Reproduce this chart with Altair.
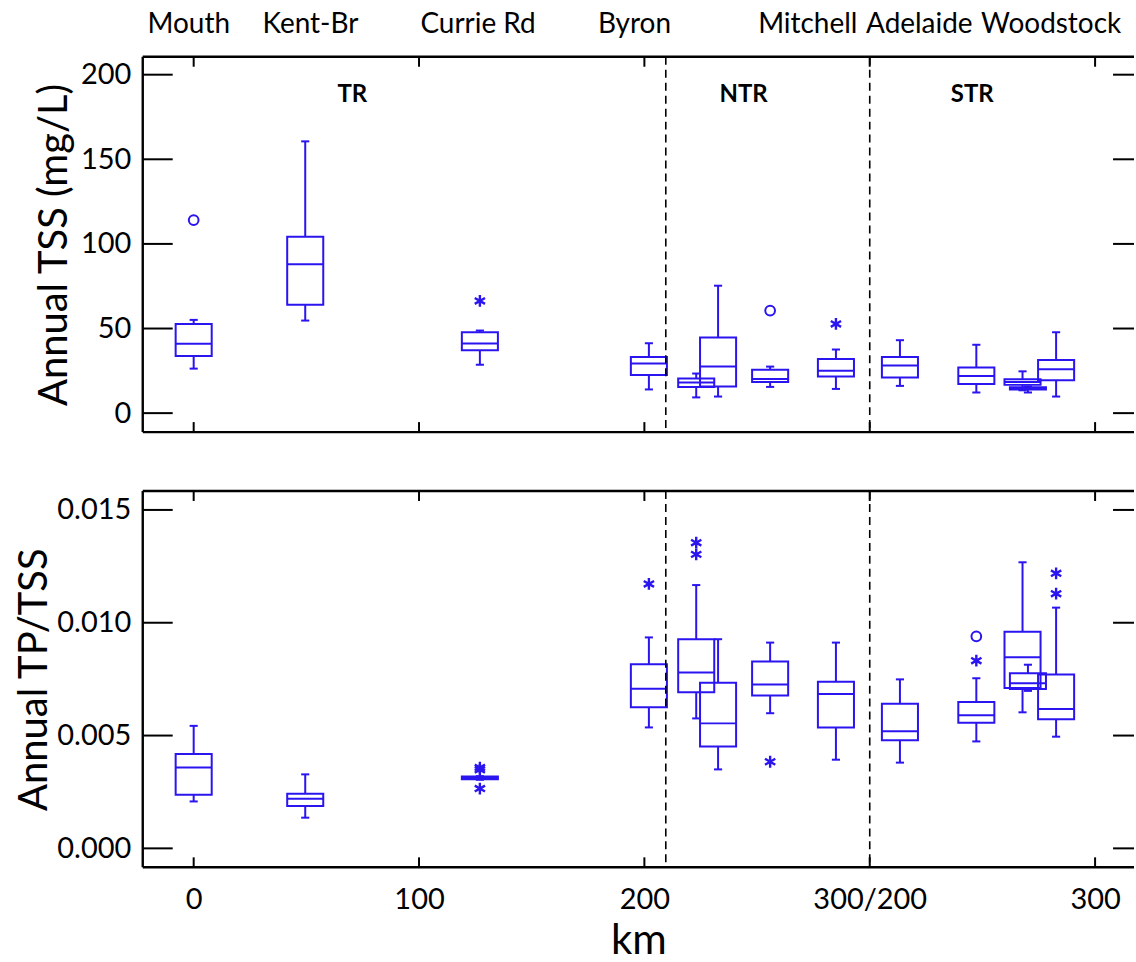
import altair as alt
import pandas as pd

FONT = "Lato"
BLUE = "#2a14f0"
BLACK = "#000000"

# ---------------- shared x (km) ----------------
x_ticks = [0, 100, 200, 300, 400]          # 300 is drawn as "300/200", 400 as "300"
boundaries = [209.5, 300]                  # TR | NTR | STR
box_pos = [0, 49.5, 127, 202, 223, 232.7, 255.8, 285, 313.4, 347.3, 367.8, 370.2, 382.7]

station_names = ["Mouth", "Kent-Br", "Currie Rd", "Byron", "Mitchell", "Adelaide", "Woodstock"]
station_pos = [-2.2, 51.8, 126.2, 195.6, 272.5, 322.0, 380.5]

region_names = ["TR", "NTR", "STR"]
region_pos = [70.4, 244.0, 345.5]

# ---------------- Annual TSS (mg/L) ----------------
tss_lo = [26.3, 54.7, 28.6, 14.0, 9.3, 9.8, 15.5, 14.3, 16.1, 12.2, 13.5, 12.2, 9.8]
tss_q1 = [33.7, 64.1, 37.1, 22.6, 15.5, 15.7, 18.4, 21.6, 21.0, 17.2, 16.7, 14.0, 19.4]
tss_med = [41.0, 88.0, 41.2, 29.3, 18.1, 27.5, 20.2, 25.1, 28.2, 21.9, 18.4, 14.6, 25.9]
tss_q3 = [52.7, 104.3, 47.8, 33.2, 20.5, 44.7, 25.7, 32.0, 33.1, 26.9, 20.0, 15.3, 31.4]
tss_hi = [55.1, 160.6, 48.8, 41.3, 23.4, 75.3, 27.5, 37.6, 43.1, 40.4, 24.7, 15.8, 47.8]
tss_out_pos = [0, 127, 255.8, 285]
tss_out_val = [114.1, 66.3, 60.6, 52.7]
tss_out_kind = ["o", "*", "o", "*"]
tss_ticks = [0, 50, 100, 150, 200]

# ---------------- Annual TP/TSS ----------------
tp_lo = [0.00208, 0.00136, 0.00304, 0.00536, 0.00576, 0.00350, 0.00599, 0.00393, 0.00380, 0.00474, 0.00603, 0.00698, 0.00495]
tp_q1 = [0.00238, 0.00188, 0.00306, 0.00625, 0.00692, 0.00451, 0.00678, 0.00536, 0.00479, 0.00557, 0.00711, 0.00706, 0.00572]
tp_med = [0.00358, 0.00220, 0.00312, 0.00708, 0.00780, 0.00554, 0.00726, 0.00684, 0.00519, 0.00590, 0.00847, 0.00732, 0.00618]
tp_q3 = [0.00418, 0.00242, 0.00318, 0.00816, 0.00927, 0.00734, 0.00828, 0.00739, 0.00641, 0.00649, 0.00960, 0.00776, 0.00771]
tp_hi = [0.00543, 0.00328, 0.00320, 0.00935, 0.01167, 0.00927, 0.00912, 0.00912, 0.00749, 0.00754, 0.01268, 0.00814, 0.01067]
tp_out_pos = [127, 127, 127, 202, 223, 223, 255.8, 347.3, 347.3, 382.7, 382.7]
tp_out_val = [0.00358, 0.00348, 0.00265, 0.01172, 0.01355, 0.01303, 0.00384, 0.00940, 0.00832, 0.01219, 0.01129]
tp_out_kind = ["*", "*", "*", "*", "*", "*", "*", "o", "*", "*", "*"]
tp_ticks = [0.0, 0.005, 0.010, 0.015]

# ---------------- geometry / style ----------------
W = 993
PX_PER_KM = 2.2575
X_MIN = -22.6
X_MAX = X_MIN + W / PX_PER_KM
HALF = 8.0     # half box width (km units)
CAP = 1.8      # half whisker-cap width
LW = 2.0
ASTERISK = "M0,-1L0,1M-0.87,-0.5L0.87,0.5M-0.87,0.5L0.87,-0.5"


def panel(lo, q1, med, q3, hi, out_pos, out_val, out_kind, y_domain, y_ticks,
          y_title, y_fmt, H, title_pad, bottom):
    xs = alt.Scale(domain=[X_MIN, X_MAX], nice=False, zero=False)
    ys = alt.Scale(domain=y_domain, nice=False, zero=False)
    if bottom:
        xaxis = alt.Axis(values=x_ticks, format="d",
                         labelExpr="datum.value == 300 ? '300/200' : (datum.value == 400 ? '300' : datum.label)",
                         ticks=False, domain=False, grid=False, labelPadding=18,
                         labelFont=FONT, labelFontSize=29, labelColor=BLACK,
                         title="km", titleFont=FONT, titleFontSize=42,
                         titleFontWeight="normal", titleColor=BLACK, titlePadding=6)
    else:
        xaxis = None
    yaxis = alt.Axis(values=y_ticks, format=y_fmt, ticks=False, domain=False, grid=False,
                     labelPadding=12, labelFont=FONT, labelFontSize=29, labelColor=BLACK,
                     title=y_title, titleFont=FONT, titleFontSize=40,
                     titleFontWeight="normal", titleColor=BLACK, titlePadding=title_pad)

    def X(f):
        return alt.X(f, type="quantitative", scale=xs, axis=xaxis)

    def Y(f):
        return alt.Y(f, type="quantitative", scale=ys, axis=yaxis)

    df = pd.DataFrame({"pos": box_pos, "lo": lo, "q1": q1, "med": med, "q3": q3, "hi": hi})
    df["bl"] = df["pos"] - HALF
    df["br"] = df["pos"] + HALF
    df["cl"] = df["pos"] - CAP
    df["cr"] = df["pos"] + CAP
    out = pd.DataFrame({"pos": out_pos, "val": out_val, "kind": out_kind})
    one = pd.DataFrame({"d": [0]})
    ydf = pd.DataFrame({"t": y_ticks})
    xdf = pd.DataFrame({"k": x_ticks})
    bdf = pd.DataFrame({"b": boundaries})

    base = alt.Chart(df)
    rule = dict(color=BLUE, strokeWidth=LW)
    layers = [
        base.mark_rule(**rule).encode(x=X("pos"), y=Y("lo"), y2="q1"),
        base.mark_rule(**rule).encode(x=X("pos"), y=Y("q3"), y2="hi"),
        base.mark_rule(**rule).encode(x=X("cl"), x2="cr", y=Y("lo")),
        base.mark_rule(**rule).encode(x=X("cl"), x2="cr", y=Y("hi")),
        base.mark_rect(filled=False, color=BLUE, strokeWidth=LW).encode(
            x=X("bl"), x2="br", y=Y("q1"), y2="q3"),
        base.mark_rule(**rule).encode(x=X("bl"), x2="br", y=Y("med")),
        alt.Chart(out).transform_filter("datum.kind == 'o'").mark_point(
            shape="circle", filled=False, size=95, strokeWidth=LW, color=BLUE, opacity=1
        ).encode(x=X("pos"), y=Y("val")),
        alt.Chart(out).transform_filter("datum.kind == '*'").mark_point(
            shape=ASTERISK, filled=False, size=140, strokeWidth=2.4, color=BLUE, opacity=1
        ).encode(x=X("pos"), y=Y("val")),
        # dashed region boundaries
        alt.Chart(bdf).mark_rule(color=BLACK, strokeWidth=1.6, strokeDash=[8, 5]).encode(
            x=X("b"), y=alt.value(0), y2=alt.value(H)),
        # inward y ticks (left and right)
        alt.Chart(ydf).mark_rule(color=BLACK, strokeWidth=2).encode(
            y=Y("t"), x=alt.value(0), x2=alt.value(30)),
        alt.Chart(ydf).mark_rule(color=BLACK, strokeWidth=2).encode(
            y=Y("t"), x=alt.value(W - 21), x2=alt.value(W)),
        # inward x ticks (top and bottom)
        alt.Chart(xdf).mark_rule(color=BLACK, strokeWidth=2).encode(
            x=X("k"), y=alt.value(0), y2=alt.value(10)),
        alt.Chart(xdf).mark_rule(color=BLACK, strokeWidth=2).encode(
            x=X("k"), y=alt.value(H - 10), y2=alt.value(H)),
        # frame
        alt.Chart(one).mark_rule(color=BLACK, strokeWidth=2.4).encode(
            x=alt.value(0), x2=alt.value(W), y=alt.value(0)),
        alt.Chart(one).mark_rule(color=BLACK, strokeWidth=2.4).encode(
            x=alt.value(0), x2=alt.value(W), y=alt.value(H)),
        alt.Chart(one).mark_rule(color=BLACK, strokeWidth=2.4).encode(
            x=alt.value(0), y=alt.value(0), y2=alt.value(H)),
    ]
    if not bottom:
        reg = pd.DataFrame({"name": region_names, "pos": region_pos})
        st = pd.DataFrame({"name": station_names, "pos": station_pos})
        layers.append(alt.Chart(reg).mark_text(
            font=FONT, fontSize=24, fontWeight="bold", color=BLACK,
            align="center", baseline="middle").encode(
            x=X("pos"), y=alt.value(38), text="name:N"))
        layers.append(alt.Chart(st).mark_text(
            font=FONT, fontSize=28, color=BLACK, align="center", baseline="middle").encode(
            x=X("pos"), y=alt.value(-32), text="name:N"))
    return alt.layer(*layers).properties(width=W, height=H)


top = panel(tss_lo, tss_q1, tss_med, tss_q3, tss_hi, tss_out_pos, tss_out_val, tss_out_kind,
            [-11.2, 210.6], tss_ticks, "Annual TSS (mg/L)", "d", 376, 6, False)
bottom = panel(tp_lo, tp_q1, tp_med, tp_q3, tp_hi, tp_out_pos, tp_out_val, tp_out_kind,
               [-0.00084, 0.01584], tp_ticks, "Annual TP/TSS", ".3f", 377, 2, True)

chart = alt.vconcat(top, bottom, spacing=55).properties(
    padding={"left": 14, "top": 9, "right": 0, "bottom": 0},
    background="white",
).configure_view(stroke="transparent")

chart.save("out.html", embed_options={"renderer": "svg", "actions": False})
